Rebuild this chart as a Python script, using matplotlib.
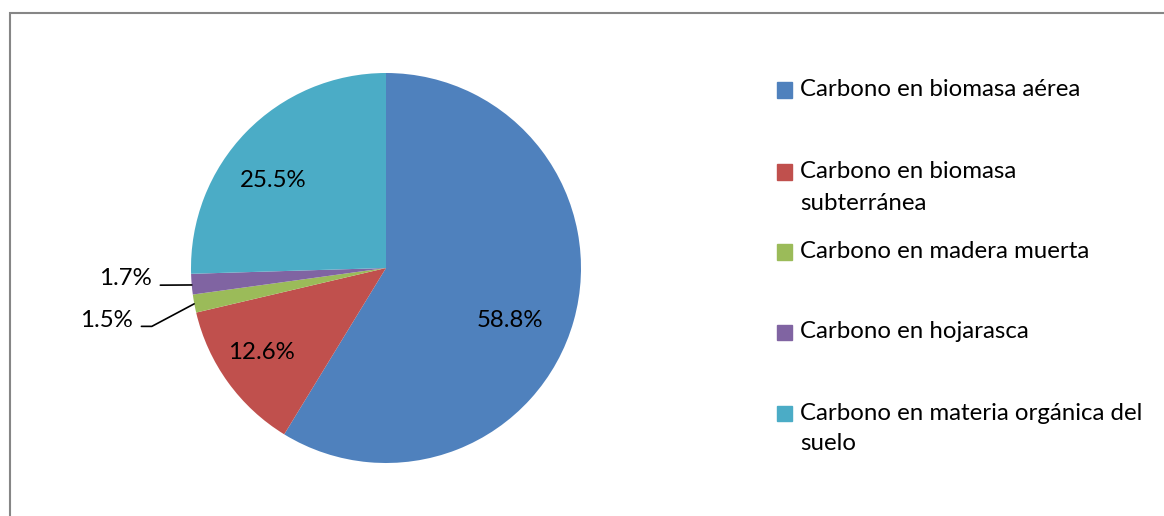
import matplotlib
matplotlib.use("Agg")
from matplotlib import pyplot as plt
from matplotlib.patches import Rectangle

plt.rcParams["font.family"] = ["Lato", "DejaVu Sans"]

# data
labels = ["Carbono en biomasa aérea",
          "Carbono en biomasa\nsubterránea",
          "Carbono en madera muerta",
          "Carbono en hojarasca",
          "Carbono en materia orgánica del\nsuelo"]
values = [58.8, 12.6, 1.5, 1.7, 25.5]
colors = ["#4F81BD", "#C0504D", "#9BBB59", "#8064A2", "#4BACC6"]

W, H = 1164, 516
FS = 17.3


def fx(px):
    return px / W


def fy(py):
    return 1 - py / H


fig = plt.figure(figsize=(W / 100, H / 100), dpi=100)

# outer frame (runs off the right and bottom edges like the screenshot)
fig.add_artist(Rectangle((fx(9.5), fy(H + 20)), 1.2, fy(12.5) - fy(H + 20),
                         transform=fig.transFigure, fill=False,
                         edgecolor="#868686", linewidth=1.5))

# pie: centre (386, 268), radius 195 px
ax = fig.add_axes([fx(191), fy(463), 390 / W, 390 / H])
wedges, _ = ax.pie(values, colors=colors, startangle=90, counterclock=False,
                   radius=1, wedgeprops=dict(linewidth=0))
ax.set_xlim(-1, 1)
ax.set_ylim(-1, 1)
ax.axis("off")

# inside labels (data coords of label centres)
inside_pos = {0: (0.636, -0.267), 1: (-0.641, -0.431), 4: (-0.579, 0.451)}
for i, (x, y) in inside_pos.items():
    ax.text(x, y, f"{values[i]:.1f}%", ha="center", va="center", fontsize=FS)

# outside labels with leader lines
ax.annotate(f"{values[3]:.1f}%", xy=(-0.996, -0.087), xytext=(-1.2, -0.056),
            ha="right", va="center", fontsize=FS,
            arrowprops=dict(arrowstyle="-", color="black", lw=1.2,
                            shrinkA=4, shrinkB=0, relpos=(1.0, 0.2)))
ax.annotate(f"{values[2]:.1f}%", xy=(-0.984, -0.184), xytext=(-1.297, -0.267),
            ha="right", va="center", fontsize=FS,
            arrowprops=dict(arrowstyle="-", color="black", lw=1.2,
                            shrinkA=4, shrinkB=0, relpos=(1.0, 0.2),
                            connectionstyle="angle,angleA=0,angleB=28,rad=0"))

# legend drawn by hand: marker next to first line of each entry
first_line_y = [90, 172, 252, 332, 413]
for lab, col, y in zip(labels, colors, first_line_y):
    fig.add_artist(Rectangle((fx(777), fy(y + 7.5)), 15 / W, 15 / H,
                             transform=fig.transFigure, color=col))
    for k, line in enumerate(lab.split("\n")):
        fig.text(fx(800), fy(y + 31 * k), line, ha="left", va="center",
                 fontsize=FS)

fig.savefig("out.png", dpi=100)
